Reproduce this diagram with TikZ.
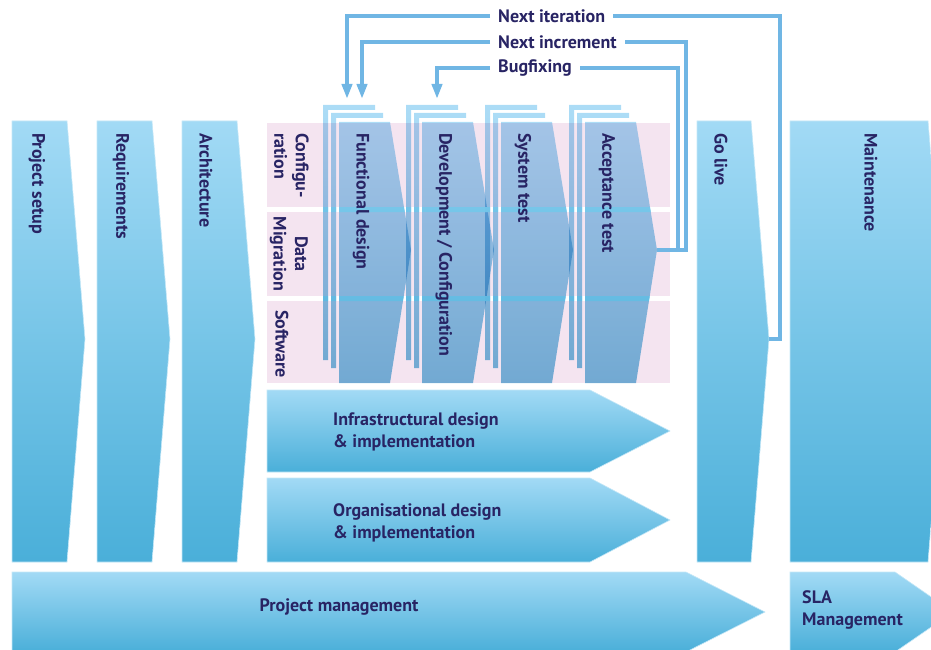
\documentclass[tikz,border=0pt]{standalone}
\usepackage{fontspec}
\setmainfont{PT Sans}
\usetikzlibrary{arrows.meta}
\definecolor{phtop}{RGB}{162,218,245}
\definecolor{phbot}{RGB}{74,175,217}
\definecolor{phedge}{RGB}{196,231,247}
\definecolor{rowpink}{RGB}{244,228,240}
\definecolor{coltop}{RGB}{172,220,246}
\definecolor{colbot}{RGB}{120,190,224}
\definecolor{gaptop}{RGB}{135,208,240}
\definecolor{gapbot}{RGB}{85,178,220}
\definecolor{loopblue}{RGB}{112,182,228}
\definecolor{labelnavy}{RGB}{40,36,100}
\tikzset{
  phase/.style={top color=phtop, bottom color=phbot, draw=phedge, line width=0.6pt},
  sprint/.style={top color=coltop, bottom color=colbot},
  gapband/.style={top color=gaptop, bottom color=gapbot},
  labeltext/.style={text=labelnavy, font=\bfseries\fontsize{18}{21.5}\selectfont, inner sep=0pt},
  vlabel/.style={labeltext, rotate=-90, anchor=west},
  hlabel/.style={labeltext, anchor=west, align=left},
  looplabel/.style={labeltext, anchor=west, inner xsep=8pt},
  loopline/.style={draw=loopblue, line width=4pt},
}
% one sprint column with its two stacked pages; #1 = left x, #2 = style
\newcommand{\sprintpages}[2]{%
  \foreach \d/\ft/\fb in {16/105/360, 8/113/368}
  {
    \path[#2] (#1-\d,-\ft) -- ++(52,0) -- ++(0,-5) -- ++(-47,0)
      -- (#1-\d+5,-\fb) -- ++(-5,0) -- cycle;
  }
  \path[#2] (#1,-122) -- (#1+51,-122) -- (#1+72,-250) -- (#1+51,-383) -- (#1,-383) -- cycle;
}
\begin{document}
\begin{tikzpicture}[x=1pt,y=1pt]
\useasboundingbox (0,0) rectangle (931,-650);
\clip (0,0) rectangle (931,-650);
% The tall phases, pointing right
\foreach \l/\r/\t/\name/\tx/\txt in {12/67/85/psetup/37/Project setup,
  97/152/170/reqs/121/Requirements, 182/237/255/archi/206/Architecture,
  697/751/769/golive/721/Go live, 790/928/946/maint/871/Maintenance}
{
  \path[phase] (\l,-121) -- (\r,-121) -- (\t,-339) -- (\r,-562) -- (\l,-562) -- cycle;
  \coordinate (\name-tip) at (\t,-339);
  \node[vlabel] (\name) at (\tx,-133) {\txt};
}
% The three pink rows behind the sprints
\foreach \ya/\yb in {123/207, 212/296, 301/383}
{
  \fill[rowpink] (267,-\ya) rectangle (670,-\yb);
}
\node[vlabel, anchor=north west, align=left] (rowcfg) at (309,-133) {Configu-\\ration};
\node[vlabel, anchor=north, align=center] (rowdata) at (308,-254) {Data\\Migration};
\node[vlabel, anchor=center] (rowsw) at (282,-344) {Software};
% The sprints, each with two pages stacked behind it
\begin{scope}[blend mode=multiply]
\foreach \x/\name in {339/fdes, 422/devcfg, 501/systest, 585/acctest}
{
  \sprintpages{\x}{sprint}
  \coordinate (\name-tip) at (\x+72,-250);
}
\end{scope}
% brighter bands where the sprints cross the gaps between the rows
\begin{scope}
\clip (267,-207) rectangle (670,-212) (267,-296) rectangle (670,-301);
\foreach \x in {339, 422, 501, 585}
{
  \sprintpages{\x}{gapband}
}
\end{scope}
\foreach \x/\name/\txt in {339/fdes/Functional design, 422/devcfg/{Development / Configuration},
  501/systest/System test, 585/acctest/Acceptance test}
{
  \node[vlabel] (\name) at (\x+22,-133) {\txt};
}
% The two wide phases under the sprints
\path[phase] (267,-390) -- (590,-390) -- (670,-431) -- (590,-472) -- (267,-472) -- cycle;
\node[hlabel] (infra) at (333,-432) {Infrastructural design\\\& implementation};
\path[phase] (267,-478) -- (590,-478) -- (670,-520) -- (590,-562) -- (267,-562) -- cycle;
\node[hlabel] (orga) at (333,-523) {Organisational design\\\& implementation};
% Bottom bars
\path[phase] (12,-572) -- (686,-572) -- (765,-612) -- (686,-652) -- (12,-652) -- cycle;
\node[labeltext] (pmgmt) at (339,-607) {Project management};
\path[phase] (790,-572) -- (895,-572) -- (953,-612) -- (895,-652) -- (790,-652) -- cycle;
\node[hlabel] (slamgmt) at (802,-610) {SLA\\Management};
% Feedback loops
\node[looplabel] (lbliter) at (490,-16) {Next iteration};
\node[looplabel] (lblincr) at (490,-42) {Next increment};
\node[looplabel] (lblbug) at (490,-68.5) {Bugfixing};
\coordinate (iterrail) at (780,-339);
\coordinate (incrrail) at (686,-250);
\coordinate (bugrail) at (678,-250);
\coordinate (iterin) at (347,-99);
\coordinate (incrin) at (362,-99);
\coordinate (bugin) at (437,-99);
\draw[loopline] (golive-tip) -- (iterrail) |- (lbliter.east);
\draw[loopline] (acctest-tip) -- (incrrail) |- (lblincr.east);
\draw[loopline] (bugrail) |- (lblbug.east);
\draw[loopline, -{Triangle[length=15pt,width=10pt]}] (lbliter.west) -| (iterin);
\draw[loopline, -{Triangle[length=15pt,width=10pt]}] (lblincr.west) -| (incrin);
\draw[loopline, -{Triangle[length=15pt,width=10pt]}] (lblbug.west) -| (bugin);
\end{tikzpicture}
\end{document}
